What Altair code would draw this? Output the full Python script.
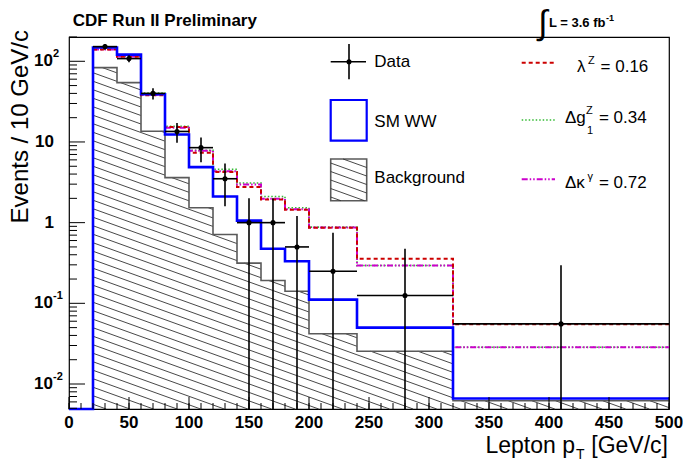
import math
import altair as alt
import pandas as pd

# ---------------- histogram contents (events / 10 GeV/c) ----------------
bin_lo = [20, 40, 60, 80, 100, 120, 140, 160, 180, 200, 240, 320]
bin_hi = [40, 60, 80, 100, 120, 140, 160, 180, 200, 240, 320, 500]

sm_ww = [148, 121, 39, 12.4, 4.88, 2.11, 1.06, 0.474, 0.333, 0.111, 0.050, 0.0066]
background = [83.5, 54.4, 13.6, 3.61, 1.53, 0.714, 0.315, 0.192, 0.141, 0.042, 0.0255, 0.0062]
lambda_z = [140, 114, 38, 15.3, 7.36, 4.23, 2.76, 1.94, 1.45, 0.865, 0.356, 0.055]
delta_g1z = [141, 116, 40.5, 15.6, 7.87, 4.57, 3.10, 2.11, 1.53, 0.88, 0.294, 0.0285]
delta_kappa = [140, 115, 38.5, 15.0, 7.80, 4.35, 2.98, 1.98, 1.47, 0.87, 0.294, 0.0285]

data_x = [30, 50, 70, 90, 110, 130, 150, 170, 190, 220, 280, 410]
data_y = [152, 108, 40, 13.5, 8.5, 3.5, 1.0, 1.0, 0.5, 0.25, 0.125, 0.0556]
data_err = [12.3, 10.4, 6.3, 3.7, 2.9, 1.9, 1.0, 1.0, 0.71, 0.5, 0.35, 0.24]

y_major = [0.01, 0.1, 1, 10, 100]
y_label_base = ["10", "10", "1", "10", "10"]
y_label_exp = ["-2", "-1", "", "", "2"]
x_major = list(range(0, 501, 50))
x_minor = list(range(0, 501, 10))

# ---------------- frame geometry ----------------
X_MAX = 500
Y_MIN, Y_MAX = 0.0049, 200
W, H = 600, 372

FONT = "Liberation Sans, Arial, Helvetica, sans-serif"

xs = alt.Scale(domain=[0, X_MAX], nice=False, zero=False)
ys = alt.Scale(type="log", domain=[Y_MIN, Y_MAX], nice=False)

LMAX, LMIN = math.log10(Y_MAX), math.log10(Y_MIN)


def to_px(x):
    return x * W / X_MAX


def to_py(y):
    return H * (LMAX - math.log10(y)) / (LMAX - LMIN)


def from_px(px):
    return px * X_MAX / W


def from_py(py):
    return 10 ** (LMAX - py / H * (LMAX - LMIN))


# hatch style: "\\" lines, slope and spacing in screen pixels
HATCH_SLOPE = 0.36
HATCH_STEP = 8.5


def hatch_in_rects(rects):
    """Clip a family of parallel lines y = c + s*x to a set of rectangles."""
    segs = []
    top = min(r[2] for r in rects)
    left = min(r[0] for r in rects)
    right = max(r[1] for r in rects)
    bottom = max(r[3] for r in rects)
    c = top - HATCH_SLOPE * right - HATCH_STEP
    while c <= bottom - HATCH_SLOPE * left + HATCH_STEP:
        for (xa, xb, ya, yb) in rects:
            lo = max(xa, (ya - c) / HATCH_SLOPE)
            hi = min(xb, (yb - c) / HATCH_SLOPE)
            if hi > lo + 0.2:
                segs.append((lo, c + HATCH_SLOPE * lo, hi, c + HATCH_SLOPE * hi))
        c += HATCH_STEP
    return segs


# ---------------- step histograms ----------------
def step_frame(vals, from_floor):
    rows = []
    if from_floor:
        rows.append({"x": 0, "y": Y_MIN})
    for lo, v in zip(bin_lo, vals):
        rows.append({"x": lo, "y": v})
    rows.append({"x": bin_hi[-1], "y": vals[-1]})
    df = pd.DataFrame(rows)
    df["i"] = range(len(df))
    return df


def step_line(vals, color, width, dash=None, from_floor=False):
    kw = dict(interpolate="step-after", color=color, strokeWidth=width)
    if dash:
        kw["strokeDash"] = dash
    return alt.Chart(step_frame(vals, from_floor)).mark_line(**kw).encode(
        x=alt.X("x:Q", scale=xs, axis=None),
        y=alt.Y("y:Q", scale=ys, axis=None),
        order="i:Q",
    )


# hatch for the background histogram, built in screen space and mapped back to data units
bg_rects = [(to_px(a), to_px(b), to_py(v), H) for a, b, v in zip(bin_lo, bin_hi, background)]
bg_hatch = pd.DataFrame(
    [{"x": from_px(a), "y": from_py(b), "x2": from_px(c), "y2": from_py(d)}
     for a, b, c, d in hatch_in_rects(bg_rects)]
)
hatch_layer = alt.Chart(bg_hatch).mark_rule(color="#333333", strokeWidth=0.9).encode(
    x=alt.X("x:Q", scale=xs, axis=None), y=alt.Y("y:Q", scale=ys, axis=None),
    x2="x2:Q", y2="y2:Q",
)

bg_line = step_line(background, "#5a5a5a", 1.6, from_floor=True)
lam_line = step_line(lambda_z, "#cc0000", 2, dash=[4, 3])
g1_line = step_line(delta_g1z, "#33bb33", 1.6, dash=[1.5, 2])
kap_line = step_line(delta_kappa, "#cc00cc", 2, dash=[6, 2, 1.5, 2, 1.5, 2])
ww_line = step_line(sm_ww, "#0000ff", 2.6, from_floor=True)

# ---------------- data points with error bars ----------------
pts = pd.DataFrame({
    "x": data_x, "y": data_y, "lo": bin_lo, "hi": bin_hi,
    "ylo": [max(v - e, Y_MIN) for v, e in zip(data_y, data_err)],
    "yhi": [v + e for v, e in zip(data_y, data_err)],
})
xerr = alt.Chart(pts).mark_rule(color="black", strokeWidth=1.6).encode(
    x=alt.X("lo:Q", scale=xs, axis=None), x2="hi:Q", y=alt.Y("y:Q", scale=ys, axis=None))
yerr = alt.Chart(pts).mark_rule(color="black", strokeWidth=1.6).encode(
    x=alt.X("x:Q", scale=xs, axis=None), y=alt.Y("ylo:Q", scale=ys, axis=None), y2="yhi:Q")
dots = alt.Chart(pts).mark_point(filled=True, shape="circle", size=26, color="black", opacity=1).encode(
    x=alt.X("x:Q", scale=xs, axis=None), y=alt.Y("y:Q", scale=ys, axis=None))

# ---------------- inward ticks ----------------
y_minor = []
for p in range(-3, 3):
    for m in range(2, 10):
        v = m * 10 ** p
        if Y_MIN <= v <= Y_MAX:
            y_minor.append(v)

ytick_major = alt.Chart(pd.DataFrame({"y": y_major})).mark_rule(color="black", strokeWidth=1).encode(
    y=alt.Y("y:Q", scale=ys, axis=None), x=alt.value(0), x2=alt.value(16))
ytick_minor = alt.Chart(pd.DataFrame({"y": y_minor})).mark_rule(color="black", strokeWidth=1).encode(
    y=alt.Y("y:Q", scale=ys, axis=None), x=alt.value(0), x2=alt.value(8))
xtick_major = alt.Chart(pd.DataFrame({"x": x_major})).mark_rule(color="black", strokeWidth=1).encode(
    x=alt.X("x:Q", scale=xs, axis=None), y=alt.value(H), y2=alt.value(H - 12))
xtick_minor = alt.Chart(pd.DataFrame({"x": x_minor})).mark_rule(color="black", strokeWidth=1).encode(
    x=alt.X("x:Q", scale=xs, axis=None), y=alt.value(H), y2=alt.value(H - 6))

# x tick labels
xlab = alt.Chart(pd.DataFrame({"x": x_major})).mark_text(
    font=FONT, fontSize=17, fontWeight="bold", align="center", baseline="alphabetic", color="black"
).encode(x=alt.X("x:Q", scale=xs, axis=None), y=alt.value(H + 19), text="x:Q")

# y tick labels with superscript exponents
ylab = pd.DataFrame({"y": y_major, "base": y_label_base, "exp": y_label_exp})
ylab["has_exp"] = ylab["exp"] != ""
ylab_base_exp = alt.Chart(ylab).transform_filter("datum.has_exp").mark_text(
    font=FONT, fontSize=17, fontWeight="bold", align="right", baseline="middle", color="black"
).encode(y=alt.Y("y:Q", scale=ys, axis=None), x=alt.value(-16), text="base:N")
ylab_plain = alt.Chart(ylab).transform_filter("!datum.has_exp").mark_text(
    font=FONT, fontSize=17, fontWeight="bold", align="right", baseline="middle", color="black"
).encode(y=alt.Y("y:Q", scale=ys, axis=None), x=alt.value(-15), text="base:N")
ylab_exp = alt.Chart(ylab).transform_filter("datum.has_exp").mark_text(
    font=FONT, fontSize=11, fontWeight="bold", align="left", baseline="middle", color="black", dy=-7
).encode(y=alt.Y("y:Q", scale=ys, axis=None), x=alt.value(-16), text="exp:N")


# ---------------- free text helpers (screen coordinates) ----------------
def texts(rows, **mark):
    df = pd.DataFrame(rows, columns=["px", "py", "t", "fs"])
    base = dict(font=FONT, color="black", baseline="alphabetic")
    base.update(mark)
    return alt.Chart(df).mark_text(**base).encode(
        x=alt.X("px:Q", scale=None, axis=None),
        y=alt.Y("py:Q", scale=None, axis=None),
        text="t:N",
        size=alt.Size("fs:Q", scale=None, legend=None),
    )


def shapes_rule(rows, **mark):
    df = pd.DataFrame(rows, columns=["x", "y", "x2", "y2"])
    return alt.Chart(df).mark_rule(**mark).encode(
        x=alt.X("x:Q", scale=None, axis=None), y=alt.Y("y:Q", scale=None, axis=None),
        x2="x2:Q", y2="y2:Q",
    )


title_txt = texts([(3.7, -11, "CDF Run II Preliminary", 17)], align="left", fontWeight="bold")
lumi_int = texts([(474, -3, "\u222b", 34)], align="center")
lumi_txt = texts([(480, -10, "L = 3.6 fb", 13)], align="left", fontWeight="bold")
lumi_sup = texts([(537, -16, "-1", 9)], align="left", fontWeight="bold")

x_title_main = texts([(506, 416, "Lepton p", 23)], align="right")
x_title_sub = texts([(507, 422, "T", 14)], align="left")
x_title_unit = texts([(599, 416, "[GeV/c]", 23)], align="right")
y_title = texts([(-41, -7, "Events / 10 GeV/c", 24)], align="right", angle=270)

# legend: left column
leg_data = shapes_rule([(261.7, 24.7, 297, 24.7), (280, 7, 280, 42.3)], color="black", strokeWidth=1.6)
leg_dot = alt.Chart(pd.DataFrame({"x": [280], "y": [24.7]})).mark_point(
    filled=True, shape="circle", size=26, color="black", opacity=1).encode(
    x=alt.X("x:Q", scale=None, axis=None), y=alt.Y("y:Q", scale=None, axis=None))
leg_boxes = alt.Chart(pd.DataFrame({
    "x": [261.7, 261.7], "y": [63, 122], "x2": [297.7, 297.7], "y2": [103.7, 163.7],
    "c": ["#0000ff", "#5a5a5a"], "w": [2.2, 1.6],
})).mark_rect(fill="white", fillOpacity=0).encode(
    x=alt.X("x:Q", scale=None, axis=None), y=alt.Y("y:Q", scale=None, axis=None),
    x2="x2:Q", y2="y2:Q",
    stroke=alt.Stroke("c:N", scale=None, legend=None),
    strokeWidth=alt.StrokeWidth("w:Q", scale=None, legend=None),
)
leg_hatch = shapes_rule(hatch_in_rects([(261.7, 297.7, 122, 163.7)]), color="#333333", strokeWidth=0.9)
leg_text_left = texts(
    [(305.3, 25, "Data", 17), (305.3, 84.7, "SM WW", 17), (305.3, 141.3, "Background", 17)],
    align="left", baseline="middle")

# legend: right column
leg_lam = shapes_rule([(452.7, 25.7, 486, 25.7)], color="#cc0000", strokeWidth=2, strokeDash=[4, 3])
leg_g1 = shapes_rule([(452.7, 83, 486, 83)], color="#33bb33", strokeWidth=1.6, strokeDash=[1.5, 2])
leg_kap = shapes_rule([(452.7, 142.3, 486, 142.3)], color="#cc00cc", strokeWidth=2,
                      strokeDash=[6, 2, 1.5, 2, 1.5, 2])
leg_sym = texts([(508, 35, "\u03bb", 17), (496, 86.3, "\u0394g", 17), (496, 150.7, "\u0394\u03ba", 17)],
                align="left")
leg_sup = texts([(519, 27, "Z", 11), (517, 77, "Z", 11), (518.5, 143, "\u03b3", 11)], align="left")
leg_sub = texts([(518, 97, "1", 11)], align="left")
leg_val = texts([(579.3, 35, "= 0.16", 17), (577.7, 86.3, "= 0.34", 17), (577.7, 150.7, "= 0.72", 17)],
                align="right")

chart = alt.layer(
    hatch_layer, bg_line, g1_line, kap_line, lam_line, ww_line,
    xerr, yerr, dots,
    ytick_major, ytick_minor, xtick_major, xtick_minor,
    xlab, ylab_base_exp, ylab_plain, ylab_exp,
    title_txt, lumi_int, lumi_txt, lumi_sup,
    x_title_main, x_title_sub, x_title_unit, y_title,
    leg_data, leg_dot, leg_boxes, leg_hatch, leg_text_left,
    leg_lam, leg_g1, leg_kap, leg_sym, leg_sup, leg_sub, leg_val,
).properties(
    width=W, height=H,
    autosize=alt.AutoSizeParams(type="none"),
    padding={"left": 69, "top": 37, "right": 14, "bottom": 55},
    background="white",
).configure_view(stroke="black", strokeWidth=1.2)

chart.save("out.html", embed_options={"renderer": "svg", "actions": False})
